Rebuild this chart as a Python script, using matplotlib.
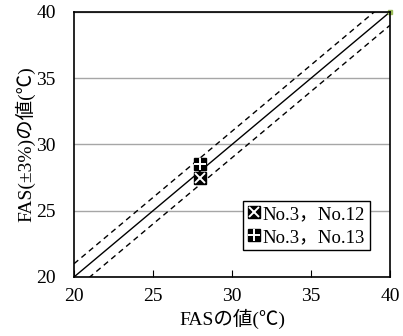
import numpy as np
import matplotlib
matplotlib.use("Agg")
import matplotlib.pyplot as plt

plt.rcParams['font.family'] = ['Liberation Serif', 'Noto Sans CJK JP']
plt.rcParams['axes.unicode_minus'] = False

# measured points
x_no12 = [28.0]
y_no12 = [27.45]
x_no13 = [28.0]
y_no13 = [28.55]

ref_range = [20, 40]
band = 1.0

fig = plt.figure(figsize=(4.03, 3.36), dpi=100)
ax = fig.add_axes([0.1836, 0.1756, 0.7841, 0.7887])

ax.set_xlim(20, 40)
ax.set_ylim(20, 40)
ax.set_xticks([20, 25, 30, 35, 40])
ax.set_yticks([20, 25, 30, 35, 40])
ax.yaxis.grid(True, color='#a6a6a6', linewidth=1.0)
ax.set_axisbelow(True)
ax.tick_params(direction='in', length=5, width=0.8, labelsize=14, color='black')
ax.tick_params(axis='x', pad=8)
ax.tick_params(axis='y', pad=13, length=0)
for s in ax.spines.values():
    s.set_linewidth(1.2)
    s.set_color('black')

xr = np.array(ref_range, dtype=float)
ax.plot(xr, xr, color='black', linewidth=1.0)
ax.plot(xr, xr + band, color='black', linewidth=1.0, linestyle=(0, (4, 3)))
ax.plot(xr, xr - band, color='black', linewidth=1.0, linestyle=(0, (4, 3)))
ax.plot([40], [40], 's', color='#9bbb59', markersize=3, clip_on=False)

# boxed markers: black square with white cross / plus
sq12, = ax.plot(x_no12, y_no12, 's', color='black', markersize=9)
cr12, = ax.plot(x_no12, y_no12, 'x', color='white', markersize=7, markeredgewidth=1.4)
sq13, = ax.plot(x_no13, y_no13, 's', color='black', markersize=9)
cr13, = ax.plot(x_no13, y_no13, '+', color='white', markersize=9, markeredgewidth=1.4)

leg = ax.legend([(sq12, cr12), (sq13, cr13)], ['No.3，No.12', 'No.3，No.13'],
                loc='lower right', bbox_to_anchor=(0.936, 0.1),
                fontsize=13.5, frameon=True, fancybox=False, framealpha=1,
                edgecolor='black', handlelength=0.7, handletextpad=0.1,
                borderpad=0.25, labelspacing=0.3, borderaxespad=0)
leg.get_frame().set_linewidth(1.0)

ax.set_xlabel('FASの値(℃)', fontsize=14, labelpad=3)
ax.set_ylabel('FAS(±3%)の値(℃)', fontsize=14, labelpad=1)

fig.savefig('out.png', dpi=100)
